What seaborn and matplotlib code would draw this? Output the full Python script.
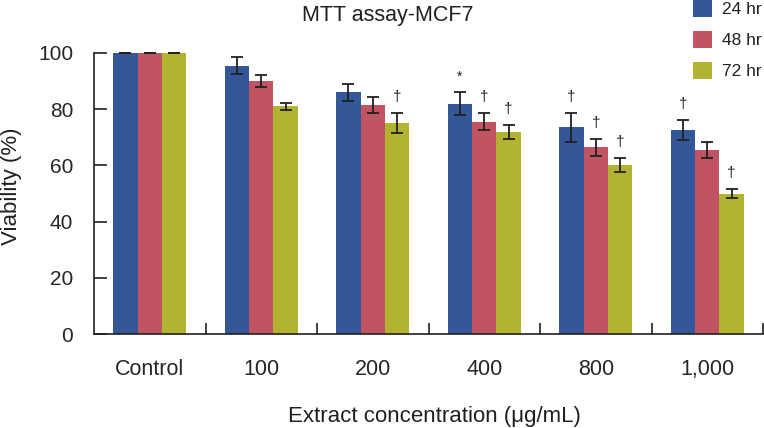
import pandas as pd
import numpy as np
import matplotlib
matplotlib.use('Agg')
import matplotlib.pyplot as plt
from matplotlib.ticker import FixedLocator
import seaborn as sns

# data
conc = ['Control', '100', '200', '400', '800', '1,000']
times = ['24 hr', '48 hr', '72 hr']

via_24 = [100, 95.5, 86, 82, 73.5, 72.5]
via_48 = [100, 90, 81.5, 75.5, 66.5, 65.5]
via_72 = [100, 81, 75, 72, 60, 50]

err_24 = [0, 3, 3, 4, 5, 3.5]
err_48 = [0, 2, 3, 3, 3, 3]
err_72 = [0, 1.3, 3.5, 2.5, 2.5, 1.5]

# significance marks above each bar
mark_24 = ['', '', '', '*', '\u2020', '\u2020']
mark_48 = ['', '', '', '\u2020', '\u2020', '']
mark_72 = ['', '', '\u2020', '\u2020', '\u2020', '\u2020']

colors = ['#345799', '#C05462', '#B2B331']

df = pd.DataFrame({
    'conc': conc * 3,
    'time': [t for t in times for _ in conc],
    'viability': via_24 + via_48 + via_72,
})

sns.set_theme(style='white')
plt.rcParams['font.family'] = ['Liberation Sans', 'DejaVu Sans']
plt.rcParams['text.color'] = '#231f20'

fig = plt.figure(figsize=(7.64, 4.28), dpi=100)
ax = fig.add_axes([94 / 764, 94 / 428, (763 - 94) / 764, (334 - 53) / 428])

sns.barplot(data=df, x='conc', y='viability', hue='time', order=conc,
            hue_order=times, palette=colors, saturation=1, width=0.654,
            gap=0, errorbar=None, linewidth=0, ax=ax)

errs = [err_24, err_48, err_72]
marks = [mark_24, mark_48, mark_72]
for cont, e, m in zip(ax.containers, errs, marks):
    xs = [p.get_x() + p.get_width() / 2 for p in cont]
    ys = [p.get_height() for p in cont]
    ax.errorbar(xs, ys, yerr=e, fmt='none', ecolor='#231f20', elinewidth=1.3,
                capsize=4.5, capthick=1.3, clip_on=False)
    for x, y, ee, mm in zip(xs, ys, e, m):
        if mm:
            ax.text(x, y + ee + 3.2, mm, ha='center', va='bottom',
                    fontsize=11 if mm != '*' else 10, color='#231f20')

ax.set_ylim(0, 100)
ax.set_xlim(-0.5, 5.5)
ax.set_yticks([0, 20, 40, 60, 80, 100])
ax.set_xlabel('')
ax.set_ylabel('')

for s in ['top', 'right']:
    ax.spines[s].set_visible(False)
for s in ['left', 'bottom']:
    ax.spines[s].set_color('#231f20')
    ax.spines[s].set_linewidth(1.2)

ax.tick_params(axis='y', direction='in', length=9, width=1.2, color='#231f20',
               labelsize=15, pad=15, left=True)
ax.tick_params(axis='x', which='major', length=0, labelsize=15.5, pad=18)
ax.xaxis.set_minor_locator(FixedLocator(np.arange(0.5, 6, 1)))
ax.tick_params(axis='x', which='minor', direction='in', length=8, width=1.2,
               color='#231f20', bottom=True)

leg = ax.legend(loc='upper left', bbox_to_anchor=(693 / 764, 1.0),
                bbox_transform=fig.transFigure, frameon=False, fontsize=12.5,
                handlelength=1.09, handleheight=1.09, handletextpad=0.6,
                labelspacing=0.8, borderpad=0, borderaxespad=0)

fig.text(388 / 764, 1 - 15 / 428, 'MTT assay-MCF7', ha='center', va='center',
         fontsize=15.5)
fig.text(12 / 764, 1 - 186 / 428, 'Viability (%)', ha='center', va='center',
         rotation=90, fontsize=16)
fig.text(434 / 764, 6 / 428, 'Extract concentration (\u03bcg/mL)', ha='center',
         va='baseline', fontsize=16)

fig.savefig('out.png', dpi=100)
